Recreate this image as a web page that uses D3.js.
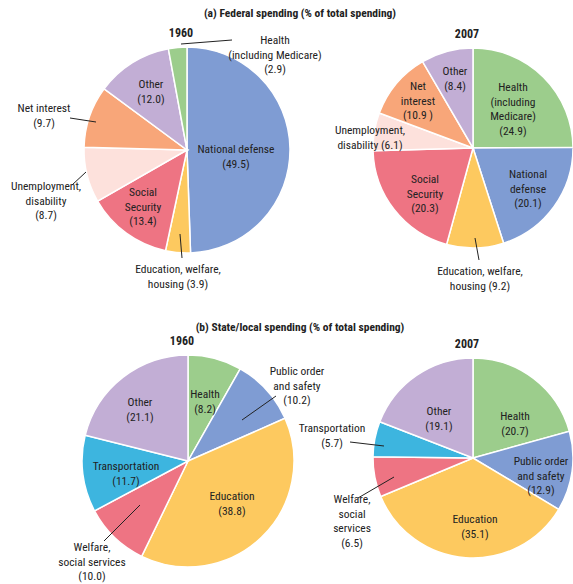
<!DOCTYPE html>
<html><head><meta charset="utf-8">
<script src="https://cdn.jsdelivr.net/npm/d3@7"></script>
<style>
body{margin:0;background:#fff;}
text{font-family:"Liberation Sans Narrow","Roboto Condensed","Liberation Sans",sans-serif;font-size:11.5px;fill:#222;}
.title{font-weight:bold;font-size:11.5px;}
.year{font-weight:bold;font-size:12px;}
</style></head><body>
<script>
// chart data
var fed1960Names = ["National defense","Education","Social Security","Unemployment","Net interest","Other","Health"];
var fed1960Values = [49.5, 3.9, 13.4, 8.7, 9.7, 12.0, 2.9];
var fed2007Names = ["Health","National defense","Education","Social Security","Unemployment","Net interest","Other"];
var fed2007Values = [24.9, 20.1, 9.2, 20.3, 6.1, 10.9, 8.4];
var st1960Names = ["Health","Public order","Education","Welfare","Transportation","Other"];
var st1960Values = [8.2, 10.2, 38.8, 10.0, 11.7, 21.1];
var st2007Names = ["Health","Public order","Education","Welfare","Transportation","Other"];
var st2007Values = [20.7, 12.9, 35.1, 6.5, 5.7, 19.1];

var colors = {"Health":"#9ccd8c","National defense":"#7f9cd3","Public order":"#7f9cd3","Education":"#fdc95f",
  "Social Security":"#ee7483","Welfare":"#ee7483","Unemployment":"#fde1dc","Net interest":"#f8a679",
  "Other":"#c2aed5","Transportation":"#3db5df"};

var svg = d3.select("body").append("svg").attr("width",573).attr("height",584);

svg.append("text").attr("class","title").attr("x",300).attr("y",17).attr("text-anchor","middle")
  .text("(a) Federal spending (% of total spending)");
svg.append("text").attr("class","title").attr("x",300).attr("y",331).attr("text-anchor","middle")
  .text("(b) State/local spending (% of total spending)");

function drawPie(names, values, cx, cy, r, year, labels, lines){
    var g = svg.append("g").attr("transform","translate("+cx+","+cy+")");
    var pie = d3.pie().sort(null).value(function(d){return d;});
    var arc = d3.arc().innerRadius(0).outerRadius(r);
    g.selectAll("path").data(pie(values)).enter().append("path")
        .attr("d",arc)
        .attr("fill",function(d,i){return colors[names[i]];})
        .attr("stroke","#fff").attr("stroke-width",1.5);
    svg.append("text").attr("class","year").attr("x",cx-6).attr("y",cy-r-10)
        .attr("text-anchor","middle").text(year);
    lines.forEach(function(l){
        svg.append("line").attr("x1",l[0]).attr("y1",l[1]).attr("x2",l[2]).attr("y2",l[3])
            .attr("stroke","#222").attr("stroke-width",1);
    });
    labels.forEach(function(lb){
        var t = svg.append("text").attr("x",lb.x).attr("y",lb.y).attr("text-anchor","middle");
        lb.t.forEach(function(s,i){
            t.append("tspan").attr("x",lb.x).attr("dy",i==0?0:14.5).text(s);
        });
    });
}

drawPie(fed1960Names, fed1960Values, 187, 150, 103, "1960", [
    {x:275,y:44,t:["Health","(including Medicare)","(2.9)"]},
    {x:151,y:88,t:["Other","(12.0)"]},
    {x:44,y:112,t:["Net interest","(9.7)"]},
    {x:46,y:190,t:["Unemployment,","disability","(8.7)"]},
    {x:143,y:196,t:["Social","Security","(13.4)"]},
    {x:236,y:153,t:["National defense","(49.5)"]},
    {x:178,y:273,t:["Education, welfare,","housing (3.9)"]}
], [[181,44,232,40],[70,118,96,122],[72,185,86,172],[180,234,182,258]]);

drawPie(fed2007Names, fed2007Values, 473, 148, 100, "2007", [
    {x:513,y:91,t:["Health","(including","Medicare)","(24.9)"]},
    {x:528,y:178,t:["National","defense","(20.1)"]},
    {x:480,y:275,t:["Education, welfare,","housing (9.2)"]},
    {x:425,y:183,t:["Social","Security","(20.3)"]},
    {x:370,y:134,t:["Unemployment,","disability (6.1)"]},
    {x:418,y:90,t:["Net","interest","(10.9 )"]},
    {x:455,y:75,t:["Other","(8.4)"]}
], [[475,238,479,260]]);

drawPie(st1960Names, st1960Values, 188, 461, 106, "1960", [
    {x:205,y:398,t:["Health","(8.2)"]},
    {x:297,y:375,t:["Public order","and safety","(10.2)"]},
    {x:232,y:500,t:["Education","(38.8)"]},
    {x:92,y:551,t:["Welfare,","social services","(10.0)"]},
    {x:126,y:470,t:["Transportation","(11.7)"]},
    {x:140,y:406,t:["Other","(21.1)"]}
], [[242,420,276,396],[104,541,140,505]]);

drawPie(st2007Names, st2007Values, 473, 458, 100, "2007", [
    {x:515,y:420,t:["Health","(20.7)"]},
    {x:541,y:465,t:["Public order","and safety","(12.9)"]},
    {x:475,y:523,t:["Education","(35.1)"]},
    {x:352,y:503,t:["Welfare,","social","services","(6.5)"]},
    {x:332,y:432,t:["Transportation","(5.7)"]},
    {x:439,y:415,t:["Other","(19.1)"]}
], [[350,442,384,446],[358,498,394,477]]);
</script>
</body></html>
